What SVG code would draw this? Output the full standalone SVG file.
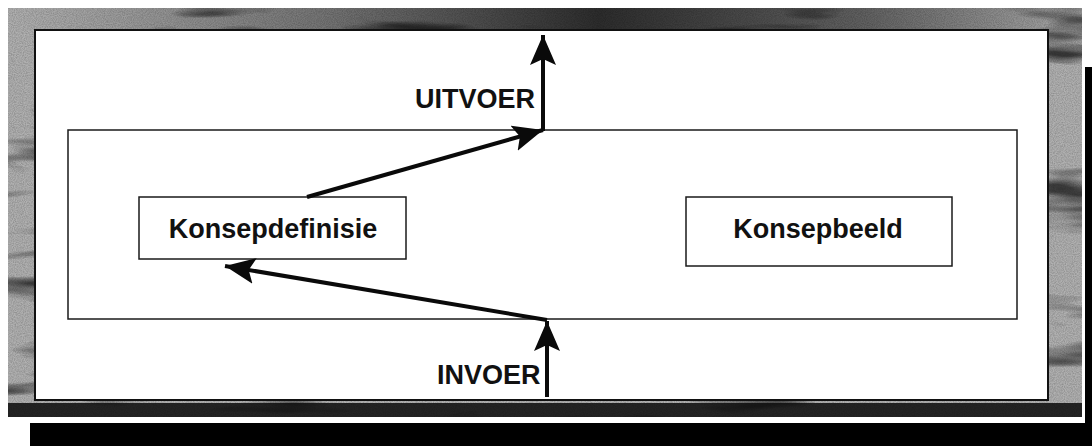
<svg xmlns="http://www.w3.org/2000/svg" width="1092" height="446" viewBox="0 0 1092 446">
  <style>
    .box { fill: #ffffff; stroke: #1a1a1a; stroke-width: 1.5; }
    .label { font-family: "Liberation Sans", Arial, sans-serif; font-weight: bold; font-size: 27px; fill: #111111; }
    .flow { stroke: #0a0a0a; stroke-width: 4; fill: none; }
  </style>
  <defs>
    <marker id="head" markerUnits="userSpaceOnUse" markerWidth="32" markerHeight="28" refX="30" refY="14" orient="auto">
      <path d="M0,1 L30,14 L0,27 L6,14 Z" fill="#0a0a0a"/>
    </marker>
    <!-- fine grain for the frame band -->
    <filter id="grain" x="0" y="0" width="100%" height="100%">
      <feTurbulence type="fractalNoise" baseFrequency="0.9" numOctaves="2" seed="3" result="n"/>
      <feColorMatrix in="n" type="matrix" values="0 0 0 0 0  0 0 0 0 0  0 0 0 0 0  0 0 0 -1.6 1.1" result="a"/>
      <feComposite in="SourceGraphic" in2="a" operator="in"/>
    </filter>
    <!-- sparse darker patches -->
    <filter id="blotch" x="0" y="0" width="100%" height="100%">
      <feTurbulence type="fractalNoise" baseFrequency="0.006 0.04" numOctaves="3" seed="11" result="n"/>
      <feColorMatrix in="n" type="matrix" values="0 0 0 0 0  0 0 0 0 0  0 0 0 0 0  0 0 0 4 -2.3" result="a"/>
      <feComposite in="SourceGraphic" in2="a" operator="in"/>
    </filter>
    <!-- top edge darkens towards the middle -->
    <linearGradient id="topShade" x1="0" y1="0" x2="1" y2="0">
      <stop offset="0" stop-color="#000" stop-opacity="0"/>
      <stop offset="0.3" stop-color="#000" stop-opacity="0.35"/>
      <stop offset="0.55" stop-color="#000" stop-opacity="0.75"/>
      <stop offset="0.8" stop-color="#000" stop-opacity="0.45"/>
      <stop offset="1" stop-color="#000" stop-opacity="0.05"/>
    </linearGradient>
    <clipPath id="band">
      <path d="M8,8 H1082 V417 H8 Z M35,30 V400 H1048 V30 Z" clip-rule="evenodd"/>
    </clipPath>
  </defs>

  <rect width="1092" height="446" fill="#ffffff"/>

  <!-- drop shadow bars -->
  <rect x="30" y="423" width="1062" height="23" fill="#000000"/>
  <rect x="1085" y="67" width="7" height="379" fill="#000000"/>

  <!-- textured frame -->
  <g id="frame">
    <g clip-path="url(#band)">
      <rect x="8" y="8" width="1074" height="409" fill="#b0b0b0"/>
      <rect x="8" y="8" width="1074" height="409" fill="#6a6a6a" filter="url(#grain)" opacity="0.55"/>
      <rect x="8" y="8" width="1074" height="409" fill="#202020" filter="url(#blotch)" opacity="0.85"/>
      <rect x="8" y="8" width="1074" height="22" fill="url(#topShade)"/>
      <rect x="8" y="403" width="1074" height="14" fill="#0a0a0a" opacity="0.85"/>
    </g>
    <rect x="35" y="30" width="1013" height="370" fill="#ffffff" stroke="#111111" stroke-width="2"/>
  </g>

  <!-- enclosing system box -->
  <g id="system">
    <rect class="box" x="68" y="130" width="949" height="189"/>
  </g>

  <g id="konsepdefinisie">
    <rect class="box" x="139" y="197" width="267" height="62"/>
    <text class="label" x="273" y="238" text-anchor="middle">Konsepdefinisie</text>
  </g>

  <g id="konsepbeeld">
    <rect class="box" x="686" y="197" width="266" height="69"/>
    <text class="label" x="818" y="238" text-anchor="middle">Konsepbeeld</text>
  </g>

  <g id="uitvoer">
    <text class="label" x="415" y="108">UITVOER</text>
  </g>

  <g id="invoer">
    <text class="label" x="437" y="384">INVOER</text>
  </g>

  <g id="connectors">
    <line class="flow" x1="547" y1="397" x2="547" y2="321" marker-end="url(#head)"/>
    <line class="flow" x1="547" y1="320" x2="225" y2="266" marker-end="url(#head)"/>
    <line class="flow" x1="307" y1="197" x2="543" y2="130" marker-end="url(#head)"/>
    <line class="flow" x1="543" y1="131" x2="543" y2="35" marker-end="url(#head)"/>
  </g>
</svg>
